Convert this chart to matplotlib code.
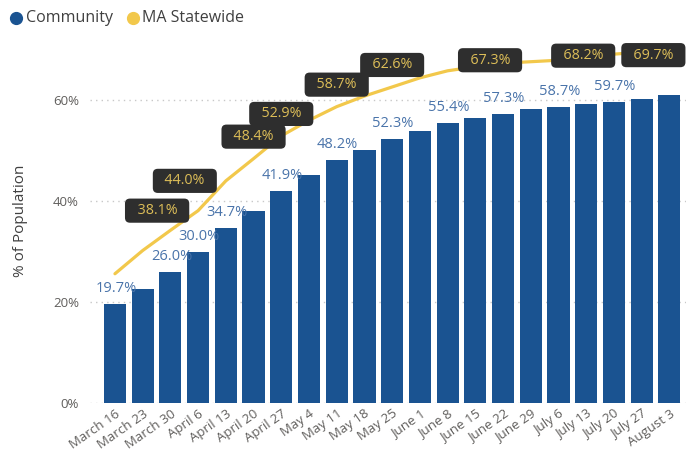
import matplotlib
matplotlib.use("Agg")
import matplotlib.pyplot as plt
from matplotlib.lines import Line2D
import numpy as np

weeks = ["March 16", "March 23", "March 30", "April 6", "April 13", "April 20",
         "April 27", "May 4", "May 11", "May 18", "May 25", "June 1", "June 8",
         "June 15", "June 22", "June 29", "July 6", "July 13", "July 20",
         "July 27", "August 3"]
community = [19.7, 22.6, 26.0, 30.0, 34.7, 38.1, 41.9, 45.2, 48.2, 50.1, 52.3,
             53.9, 55.4, 56.4, 57.3, 58.2, 58.7, 59.2, 59.7, 60.3, 61.0]
statewide = [25.6, 30.2, 34.2, 38.1, 44.0, 48.4, 52.9, 56.0, 58.7, 60.8, 62.6,
             64.4, 65.8, 66.6, 67.3, 67.6, 67.9, 68.2, 69.1, 69.5, 69.7]
yticks = [0, 20, 40, 60]

# which points carry a visible data label (as in the reference)
community_label_idx = [0, 2, 3, 4, 6, 8, 10, 12, 14, 16, 18]
statewide_label_idx = [3, 4, 5, 6, 8, 10, 14, 17, 20]
# pixel offsets of statewide labels relative to their point
statewide_label_off = {3: (-41, 0), 4: (-41, 0), 5: (0, 22), 6: (0, 22),
                       8: (0, 22), 10: (0, 22), 14: (-13, 3), 17: (-3, 3),
                       20: (-16, -4)}

BAR = "#1A5391"
LINE = "#F2C84B"
LABEL_BLUE = "#4A74AA"
GRAY = "#605E5C"

plt.rcParams['font.family'] = ['Open Sans', 'DejaVu Sans']

W, H = 687, 462
fig = plt.figure(figsize=(W / 100, H / 100), dpi=100)
ax = fig.add_axes([90 / W, 59 / H, 596 / W, 364 / H])

x = np.arange(len(weeks))
ax.bar(x, community, width=0.8, color=BAR, zorder=2)
ax.plot(x, statewide, color=LINE, lw=2.3, zorder=3, solid_capstyle='round',
        solid_joinstyle='round')

ax.set_xlim(-0.9, 20.6)
ax.set_ylim(0, 72.1)
ax.set_yticks(yticks)
ax.set_yticklabels([f"{v}%" for v in yticks], color=GRAY, fontsize=9.5)
ax.set_xticks(x)
ax.set_xticklabels(weeks, rotation=35, ha='right', rotation_mode='anchor',
                   color=GRAY, fontsize=9.5)
ax.tick_params(length=0, axis='y', pad=8)
ax.tick_params(length=0, axis='x', pad=3)
ax.yaxis.grid(True, linestyle=(0, (1, 3)), color='#C8C8C8', lw=1)
ax.set_axisbelow(True)
for s in ax.spines.values():
    s.set_visible(False)

ax.set_ylabel("% of Population", color='#404040', fontsize=11)
ax.yaxis.set_label_coords(-0.104, 0.5)

px = 0.72
for i in community_label_idx:
    ax.annotate(f"{community[i]:.1f}%", (x[i], community[i]),
                xytext=(1 * px, 8 * px), textcoords='offset points',
                ha='center', va='bottom', color=LABEL_BLUE, fontsize=10.5,
                zorder=5)

for i in statewide_label_idx:
    dx, dy = statewide_label_off[i]
    ax.annotate(f"  {statewide[i]:.1f}%  ", (x[i], statewide[i]),
                xytext=(dx * px, dy * px), textcoords='offset points',
                ha='center', va='center', color='#DDBE58', fontsize=10.3,
                zorder=6, annotation_clip=False,
                bbox=dict(boxstyle='round,pad=0.32,rounding_size=0.35',
                          fc='#2E2E2E', ec='none'))

# legend
ly = 1 - 18 / H
fig.add_artist(Line2D([16 / W], [ly], marker='o', markersize=8.5, color=BAR,
                      transform=fig.transFigure, lw=0))
fig.text(26 / W, ly, "Community", va='center', ha='left', fontsize=11.5,
         color='#404040')
fig.add_artist(Line2D([133 / W], [ly], marker='o', markersize=8.5, color=LINE,
                      transform=fig.transFigure, lw=0))
fig.text(142 / W, ly, "MA Statewide", va='center', ha='left', fontsize=11.5,
         color='#404040')

fig.savefig("out.png", dpi=100)
